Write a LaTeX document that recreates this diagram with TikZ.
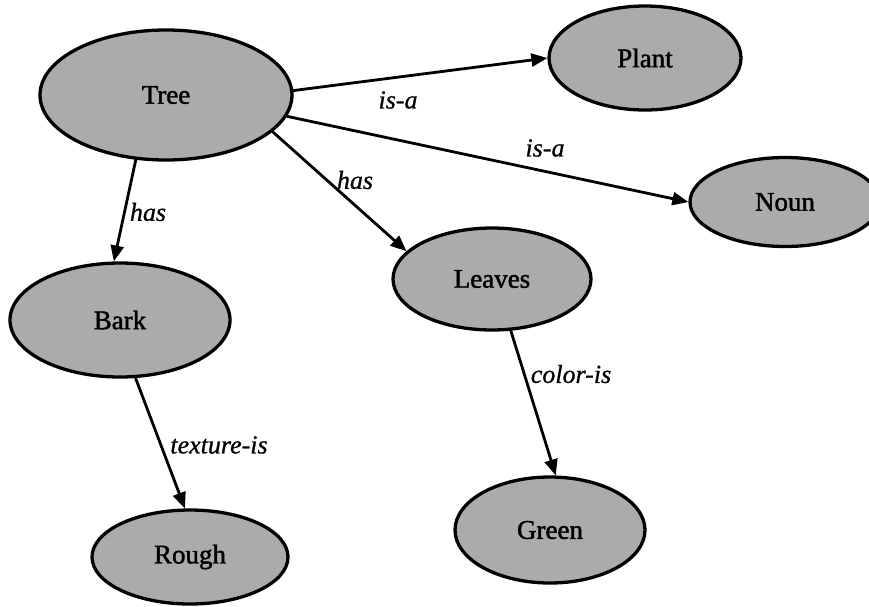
\documentclass[tikz,border=0pt]{standalone}
\usepackage{fontspec}
\setmainfont{Liberation Serif}
\newfontfamily\nodefont[FakeBold=1.6]{Liberation Serif}
\newfontfamily\labelfont[FakeBold=0.8]{Liberation Serif}
\usetikzlibrary{shapes.geometric,arrows.meta}
\definecolor{halftone}{HTML}{ABABAB}
\tikzset{
  concept/.style={ellipse, draw=black, line width=3.3pt, fill=halftone,
    inner sep=0pt, font=\nodefont\fontsize{27}{30}\selectfont},
  rel/.style={-{Triangle[length=16pt,width=13pt]}, line width=2.8pt, line cap=round},
  rellabel/.style={font=\labelfont\fontsize{26}{29}\selectfont\itshape, inner sep=0pt}
}
\begin{document}
\begin{tikzpicture}[x=1pt,y=-1pt]
\useasboundingbox (0,0) rectangle (869,606);
\clip (0,0) rectangle (869,606);
\fill[white] (0,0) rectangle (869,606);

\node[concept, minimum width=252pt, minimum height=130pt] (Tree)   at (166,95)  {Tree};
\node[concept, minimum width=192pt, minimum height=104pt] (Plant)  at (645,58)  {Plant};
\node[concept, minimum width=190pt, minimum height=89pt]  (Noun)   at (785,202) {Noun};
\node[concept, minimum width=198pt, minimum height=102pt] (Leaves) at (492,279) {Leaves};
\node[concept, minimum width=220pt, minimum height=114pt] (Bark)   at (120,320) {Bark};
\node[concept, minimum width=190pt, minimum height=106pt] (Green)  at (550,530) {Green};
\node[concept, minimum width=196pt, minimum height=94pt]  (Rough)  at (190,557) {Rough};

\draw[rel] (Tree.2)    -- (Plant.180);
\draw[rel] (Tree.-10.8) -- (Noun.180);
\draw[rel] (Tree.-19.1) -- (Leaves.162.8);
\draw[rel] (Tree.-115.5) -- (Bark.96);
\draw[rel] (Bark.-75)  -- (Rough.96);
\draw[rel] (Leaves.-70.6) -- (Green.84.8);

\node[rellabel] (l1) at (398,100) {is-a};
\node[rellabel] (l2) at (545,148) {is-a};
\node[rellabel] (l3) at (355,180) {has};
\node[rellabel] (l4) at (148,212) {has};
\node[rellabel] (l5) at (219,445) {texture-is};
\node[rellabel] (l6) at (571,374) {color-is};
\end{tikzpicture}
\end{document}
